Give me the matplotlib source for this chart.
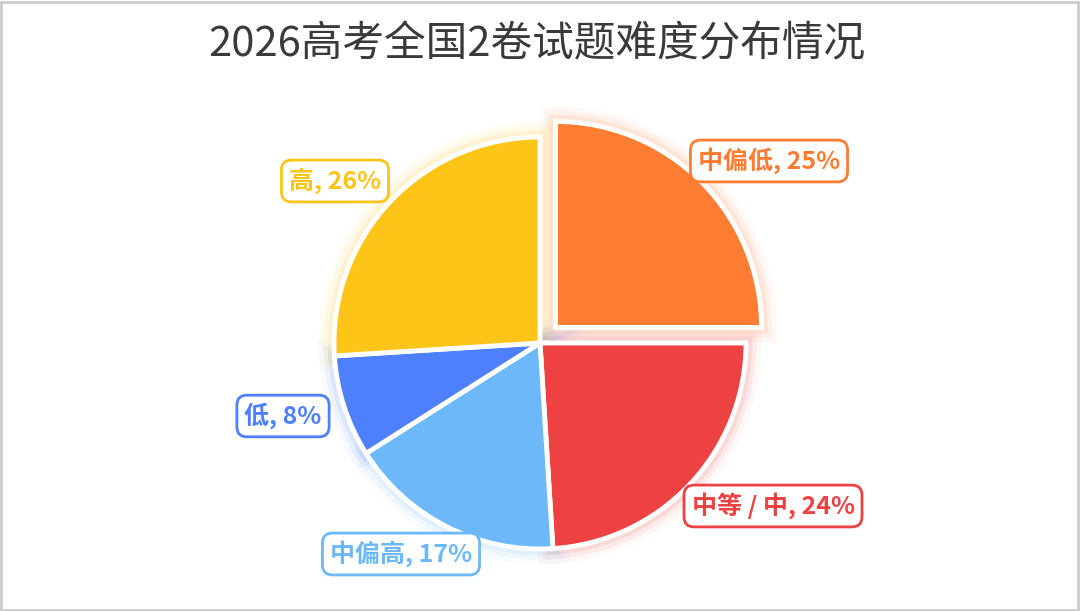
import matplotlib.pyplot as plt
from matplotlib.patches import Rectangle
import matplotlib.patheffects as pe

plt.rcParams['font.family'] = ['Noto Sans CJK SC', 'DejaVu Sans']

# data
labels = ['中偏低', '中等 / 中', '中偏高', '低', '高']
values = [25, 24, 17, 8, 26]
colors = ['#fe7d33', '#ee4141', '#6cb8f8', '#4e80fe', '#fec519']

# pie geometry in pixels; explode is an absolute offset here
cx, cy, r = 540, 611 - 343, 206
explode = [22, 0, 0, 0, 0]

# label box centres (pixels, from top-left)
label_pos = [(769, 161), (773, 506), (401, 554), (283, 416), (335, 181)]

fig = plt.figure(figsize=(10.8, 6.11), dpi=100)
ax = fig.add_axes([0, 0, 1, 1])

# soft glow behind the slices
glow, _ = ax.pie(values, colors=colors, explode=explode, startangle=90,
                 counterclock=False, center=(cx, cy), radius=r, frame=True,
                 wedgeprops=dict(linewidth=0))
for w, c in zip(glow, colors):
    w.set_zorder(1)
    w.set_path_effects([pe.Stroke(linewidth=22, foreground=c, alpha=0.04),
                        pe.Stroke(linewidth=15, foreground=c, alpha=0.07),
                        pe.Stroke(linewidth=9, foreground=c, alpha=0.10),
                        pe.Normal()])

wedges, _ = ax.pie(values, colors=colors, explode=explode, startangle=90,
                   counterclock=False, center=(cx, cy), radius=r, frame=True,
                   wedgeprops=dict(edgecolor='white', linewidth=3.5))
for w in wedges:
    w.set_zorder(2)

ax.set_xlim(0, 1080)
ax.set_ylim(0, 611)
ax.set_aspect('equal')
ax.axis('off')

for lab, v, c, (px, py) in zip(labels, values, colors, label_pos):
    ax.text(px, 611 - py, f'{lab}, {v}%', color=c, fontsize=18, fontweight='bold',
            ha='center', va='center', zorder=5,
            bbox=dict(boxstyle='round,pad=0.3,rounding_size=0.4', facecolor='white',
                      edgecolor=c, linewidth=2))

fig.text(0.497, 1 - 45 / 611, '2026高考全国2卷试题难度分布情况', ha='center', va='center',
         fontsize=30, color='#3a3a3a')

fig.patches.append(Rectangle((0.001, 0.002), 0.997, 0.995, transform=fig.transFigure,
                             fill=False, edgecolor='#cccccc', linewidth=2))

fig.savefig('out.png', dpi=100, facecolor='white')
